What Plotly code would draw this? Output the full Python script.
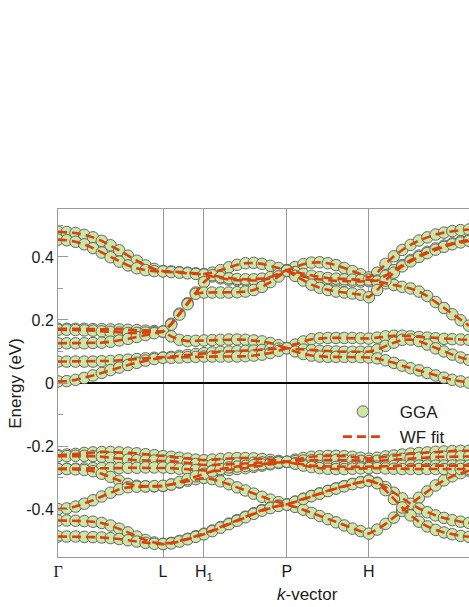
import plotly.graph_objects as go
import numpy as np

# high-symmetry points along the k-path (path length units)
sym_labels = ['<span style="font-family:Liberation Serif">Γ</span>', 'L', 'H<sub>1</sub>', 'P', 'H']
sym_pos = [0.0, 1.0, 1.39, 2.18, 2.96]
k_end = 3.914
seg_pts = [12, 5, 10, 10, 12]

# bands (eV), one value per k-point
u1 = [0.480, 0.479, 0.476, 0.470, 0.462, 0.451, 0.437, 0.421, 0.404, 0.388, 0.373, 0.362, 0.355,
      0.354, 0.352, 0.350, 0.348, 0.346,
      0.350, 0.358, 0.367, 0.375, 0.380, 0.381, 0.378, 0.372, 0.365, 0.358,
      0.368, 0.377, 0.382, 0.383, 0.380, 0.374, 0.365, 0.355, 0.345, 0.335,
      0.350, 0.378, 0.402, 0.422, 0.438, 0.452, 0.462, 0.471, 0.477, 0.482, 0.485, 0.487]
u2 = [0.455, 0.453, 0.448, 0.440, 0.428, 0.414, 0.399, 0.385, 0.373, 0.364, 0.358, 0.355, 0.354,
      0.352, 0.350, 0.348, 0.346, 0.344,
      0.338, 0.332, 0.328, 0.326, 0.325, 0.325, 0.327, 0.332, 0.342, 0.356,
      0.347, 0.338, 0.332, 0.328, 0.326, 0.324, 0.323, 0.322, 0.322, 0.323,
      0.325, 0.340, 0.358, 0.374, 0.390, 0.404, 0.416, 0.427, 0.436, 0.443, 0.449, 0.454]
u3 = [0.172, 0.172, 0.172, 0.172, 0.171, 0.171, 0.170, 0.170, 0.169, 0.168, 0.166, 0.165, 0.163,
      0.188, 0.220, 0.253, 0.287, 0.320,
      0.342, 0.336, 0.332, 0.330, 0.329, 0.329, 0.331, 0.336, 0.346, 0.358,
      0.352, 0.346, 0.340, 0.336, 0.333, 0.331, 0.329, 0.328, 0.327, 0.328,
      0.322, 0.316, 0.311, 0.305, 0.300, 0.290, 0.276, 0.257, 0.238, 0.218, 0.199, 0.182]
u4 = [0.169, 0.169, 0.168, 0.167, 0.166, 0.164, 0.162, 0.160, 0.159, 0.159, 0.160, 0.161, 0.163,
      0.185, 0.217, 0.250, 0.283, 0.287,
      0.287, 0.287, 0.287, 0.288, 0.290, 0.295, 0.305, 0.320, 0.338, 0.356,
      0.340, 0.325, 0.312, 0.302, 0.295, 0.290, 0.287, 0.284, 0.280, 0.272,
      0.295, 0.325, 0.350, 0.370, 0.386, 0.400, 0.412, 0.423, 0.432, 0.440, 0.446, 0.451]
u5 = [0.126, 0.126, 0.126, 0.126, 0.127, 0.128, 0.131, 0.135, 0.140, 0.146, 0.152, 0.158, 0.163,
      0.148, 0.137, 0.133, 0.134, 0.135,
      0.136, 0.137, 0.138, 0.138, 0.137, 0.135, 0.132, 0.127, 0.120, 0.111,
      0.122, 0.132, 0.139, 0.142, 0.143, 0.143, 0.143, 0.143, 0.142, 0.141,
      0.144, 0.148, 0.150, 0.150, 0.148, 0.146, 0.144, 0.142, 0.140, 0.139, 0.138, 0.137]
u6 = [0.068, 0.068, 0.068, 0.068, 0.068, 0.069, 0.070, 0.072, 0.074, 0.076, 0.078, 0.080, 0.081,
      0.083, 0.086, 0.089, 0.092, 0.095,
      0.097, 0.099, 0.100, 0.101, 0.102, 0.103, 0.105, 0.107, 0.109, 0.111,
      0.108, 0.106, 0.104, 0.102, 0.101, 0.100, 0.099, 0.099, 0.099, 0.099,
      0.106, 0.118, 0.128, 0.137, 0.138, 0.133, 0.122, 0.110, 0.100, 0.090, 0.081, 0.073]
u7 = [0.005, 0.006, 0.010, 0.016, 0.024, 0.032, 0.041, 0.049, 0.057, 0.064, 0.071, 0.076, 0.080,
      0.080, 0.081, 0.082, 0.083, 0.084,
      0.084, 0.084, 0.084, 0.084, 0.085, 0.087, 0.090, 0.095, 0.102, 0.110,
      0.100, 0.092, 0.087, 0.084, 0.083, 0.083, 0.083, 0.083, 0.082, 0.081,
      0.078, 0.072, 0.064, 0.055, 0.047, 0.040, 0.032, 0.024, 0.017, 0.010, 0.005, 0.001]

b1 = [-0.229, -0.227, -0.225, -0.222, -0.220, -0.219, -0.219, -0.220, -0.221, -0.223, -0.226, -0.229, -0.232,
      -0.234, -0.237, -0.240, -0.243, -0.245,
      -0.243, -0.241, -0.239, -0.238, -0.238, -0.239, -0.241, -0.244, -0.247, -0.250,
      -0.243, -0.238, -0.234, -0.232, -0.231, -0.231, -0.232, -0.234, -0.237, -0.240,
      -0.237, -0.233, -0.230, -0.227, -0.224, -0.222, -0.220, -0.218, -0.217, -0.216, -0.215, -0.215]
b2 = [-0.232, -0.232, -0.231, -0.231, -0.232, -0.234, -0.237, -0.240, -0.243, -0.245, -0.246, -0.246, -0.246,
      -0.248, -0.251, -0.254, -0.257, -0.260,
      -0.260, -0.259, -0.257, -0.255, -0.254, -0.253, -0.252, -0.251, -0.250, -0.250,
      -0.248, -0.246, -0.245, -0.244, -0.244, -0.244, -0.245, -0.246, -0.247, -0.248,
      -0.247, -0.245, -0.243, -0.241, -0.239, -0.237, -0.236, -0.235, -0.234, -0.233, -0.233, -0.233]
b3 = [-0.272, -0.272, -0.272, -0.271, -0.270, -0.270, -0.270, -0.270, -0.269, -0.269, -0.268, -0.268, -0.268,
      -0.270, -0.272, -0.274, -0.276, -0.278,
      -0.279, -0.278, -0.276, -0.273, -0.270, -0.266, -0.262, -0.258, -0.254, -0.250,
      -0.255, -0.259, -0.262, -0.264, -0.265, -0.266, -0.266, -0.266, -0.266, -0.266,
      -0.265, -0.264, -0.263, -0.262, -0.262, -0.262, -0.262, -0.262, -0.262, -0.262, -0.262, -0.262]
b4 = [-0.273, -0.273, -0.274, -0.276, -0.280, -0.288, -0.298, -0.310, -0.320, -0.326, -0.328, -0.328, -0.327,
      -0.322, -0.316, -0.310, -0.305, -0.301,
      -0.305, -0.312, -0.321, -0.331, -0.341, -0.351, -0.361, -0.370, -0.378, -0.385,
      -0.393, -0.402, -0.412, -0.422, -0.432, -0.442, -0.452, -0.462, -0.470, -0.478,
      -0.465, -0.447, -0.427, -0.406, -0.385, -0.364, -0.344, -0.325, -0.309, -0.296, -0.286, -0.278]
b5 = [-0.400, -0.398, -0.392, -0.383, -0.372, -0.360, -0.348, -0.337, -0.331, -0.329, -0.328, -0.327, -0.326,
      -0.322, -0.314, -0.305, -0.296, -0.288,
      -0.280, -0.273, -0.268, -0.265, -0.263, -0.261, -0.258, -0.255, -0.252, -0.250,
      -0.256, -0.262, -0.267, -0.270, -0.272, -0.273, -0.273, -0.272, -0.271, -0.270,
      -0.270, -0.271, -0.272, -0.273, -0.273, -0.273, -0.273, -0.273, -0.273, -0.273, -0.273, -0.273]
b6 = [-0.436, -0.436, -0.437, -0.438, -0.440, -0.444, -0.452, -0.462, -0.474, -0.487, -0.498, -0.506, -0.510,
      -0.507, -0.501, -0.494, -0.486, -0.478,
      -0.468, -0.457, -0.446, -0.435, -0.424, -0.413, -0.403, -0.395, -0.389, -0.385,
      -0.376, -0.367, -0.358, -0.350, -0.342, -0.334, -0.327, -0.320, -0.314, -0.309,
      -0.316, -0.330, -0.348, -0.366, -0.383, -0.398, -0.410, -0.420, -0.428, -0.435, -0.440, -0.444]
b7 = [-0.487, -0.487, -0.487, -0.488, -0.489, -0.490, -0.492, -0.495, -0.499, -0.503, -0.507, -0.510, -0.511,
      -0.509, -0.503, -0.496, -0.488, -0.480,
      -0.470, -0.459, -0.448, -0.437, -0.426, -0.415, -0.405, -0.397, -0.390, -0.386,
      -0.377, -0.368, -0.359, -0.351, -0.343, -0.335, -0.328, -0.321, -0.315, -0.310,
      -0.318, -0.340, -0.368, -0.395, -0.420, -0.440, -0.455, -0.466, -0.474, -0.480, -0.485, -0.488]

bands = [u1, u2, u3, u4, u5, u6, u7, b1, b2, b3, b4, b5, b6, b7]

# k-point grid along the path
stops = sym_pos + [k_end]
k = [stops[0]]
for s, n in enumerate(seg_pts):
    k += list(np.linspace(stops[s], stops[s + 1], n + 1)[1:])

font = 'Liberation Sans, Arial, sans-serif'
fig = go.Figure()

for i, band in enumerate(bands):
    fig.add_trace(go.Scatter(
        x=k, y=band, mode='markers', name='\u2002\u2009GGA', legendgroup='gga',
        showlegend=(i == 0),
        marker=dict(size=11.5, color='#cbe6a6', line=dict(color='#666666', width=1))))

for i, band in enumerate(bands):
    fig.add_trace(go.Scatter(
        x=k, y=band, mode='lines', name='\u2002\u2009WF fit', legendgroup='wf',
        showlegend=(i == 0),
        line=dict(color='#d8420f', width=2.6, dash='9px,5px')))

fig.update_layout(
    width=469, height=607,
    margin=dict(l=58, r=0, t=209, b=50),
    plot_bgcolor='white', paper_bgcolor='white',
    font=dict(family=font, size=16, color='#1a1a1a'),
    showlegend=True,
    legend=dict(x=0.681, y=0.4685, xanchor='left', yanchor='top',
                bgcolor='rgba(0,0,0,0)', font=dict(size=17), itemwidth=40,
                tracegroupgap=0),
    xaxis=dict(range=[0, k_end], tickvals=sym_pos, ticktext=sym_labels,
               showgrid=True, gridcolor='#9a9a9a', gridwidth=1,
               showline=True, linecolor='#9a9a9a', linewidth=1, mirror=True,
               ticks='', zeroline=False, tickfont=dict(size=16)),
    yaxis=dict(range=[-0.552, 0.552], tickvals=[-0.4, -0.2, 0, 0.2, 0.4],
               ticktext=['-0.4', '-0.2', '0', '0.2', '0.4'],
               showgrid=False, showline=True, linecolor='#9a9a9a', linewidth=1,
               ticks='inside', ticklen=10, tickcolor='#9a9a9a',
               minor=dict(dtick=0.1, ticks='inside', ticklen=5, tickcolor='#9a9a9a'),
               zeroline=True, zerolinecolor='black', zerolinewidth=2,
               tickfont=dict(size=16)),
    annotations=[
        dict(text='Energy (eV)', xref='paper', yref='paper', x=-0.105, y=0.5,
             xanchor='center', yanchor='middle',
             textangle=-90, showarrow=False, font=dict(size=17)),
        dict(text='<i>k</i>-vector', xref='paper', yref='paper', x=0.606, y=-0.109,
             xanchor='center', yanchor='middle', showarrow=False, font=dict(size=17)),
    ],
)

# page body has a default 8px margin; drop it so the figure sits at the window corner
fig.write_html("out.html", config={'displayModeBar': False},
               post_script="document.body.style.margin='0';")
